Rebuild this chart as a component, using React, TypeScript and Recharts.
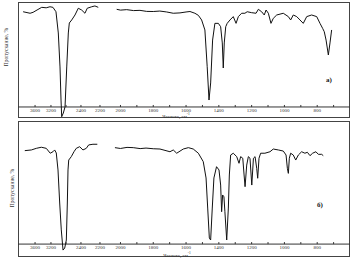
import { LineChart, Line, XAxis, YAxis, ReferenceLine } from 'recharts';

// panel a) — two scanned segments, wavenumber (cm-1) vs transmittance (%)
const A_HIGH_WN = [3900, 3725, 3650, 3550, 3432, 3320, 3225, 3147, 3067, 3005, 2960, 2933, 2915, 2872, 2827, 2781, 2739, 2712, 2648, 2560, 2472, 2393, 2358, 2334, 2287, 2253, 2218];
const A_HIGH_T = [91.6, 90.3, 91.1, 93.1, 95.4, 95.0, 95.9, 95.4, 91.6, 73.3, 44, 15.5, 1.1, 4.3, 9.5, 44, 73.3, 81.9, 84.5, 88.8, 94.6, 93.1, 90.3, 94.6, 95.9, 96.6, 95.4];
const A_LOW_WN = [2037, 2000, 1962, 1920, 1881, 1840, 1800, 1760, 1718, 1678, 1637, 1600, 1576, 1546, 1525, 1505, 1485, 1471, 1460, 1450, 1438, 1424, 1403, 1389, 1379, 1373, 1367, 1358, 1349, 1332, 1312, 1295, 1281, 1261, 1241, 1227, 1200, 1173, 1159, 1139, 1123, 1112, 1098, 1082, 1068, 1047, 1007, 976, 962, 946, 925, 905, 885, 864, 834, 803, 783, 767, 757, 746, 732, 722, 712];
const A_LOW_T = [93.7, 93.0, 93.4, 92.6, 92.8, 91.9, 91.8, 92.2, 91.4, 90.3, 90.6, 91.4, 91.8, 90.3, 88.5, 84.5, 75.9, 44.2, 15.5, 30.2, 67.2, 81.6, 81.6, 78.7, 64.7, 43.1, 64.7, 78.7, 81.6, 84.5, 87.4, 81.6, 87.4, 90.3, 90.3, 91.6, 90.8, 90.3, 93.7, 91.6, 88.8, 93.1, 90.3, 81.6, 85.9, 88.8, 90.3, 87.4, 84.5, 88.8, 87.4, 84.5, 81.6, 87.4, 88.8, 87.4, 81.6, 77.3, 74.4, 67.2, 54.3, 64.7, 75.9];

// panel б)
const B_HIGH_WN = [3858, 3693, 3568, 3442, 3318, 3218, 3147, 3102, 3059, 3013, 2968, 2926, 2880, 2835, 2792, 2765, 2747, 2728, 2659, 2587, 2526, 2435, 2379, 2344, 2319, 2274, 2228];
const B_HIGH_T = [78.2, 78.7, 79.9, 80.7, 79.9, 76.3, 77.4, 78.7, 76.5, 64, 39.7, 19.9, 5.1, 6.6, 12.5, 39.7, 64, 71.3, 73.8, 77.4, 79.9, 81.1, 78.7, 79.9, 82.4, 82.9, 82.9];
const B_LOW_WN = [2054, 2000, 1960, 1922, 1880, 1844, 1800, 1759, 1698, 1678, 1657, 1617, 1586, 1556, 1525, 1495, 1478, 1468, 1458, 1450, 1440, 1430, 1414, 1399, 1389, 1383, 1377, 1369, 1363, 1352, 1342, 1336, 1328, 1312, 1291, 1277, 1267, 1254, 1246, 1240, 1230, 1220, 1210, 1199, 1189, 1179, 1169, 1163, 1155, 1145, 1119, 1088, 1068, 1037, 1007, 990, 982, 976, 970, 962, 946, 931, 915, 895, 875, 860, 844, 828, 808, 793, 773, 763];
const B_LOW_T = [80.4, 79.8, 80.6, 80.4, 79.7, 80.1, 79.6, 79.4, 77.4, 78.7, 76.3, 79.4, 80.4, 79.4, 76.3, 70.1, 58.1, 36, 14, 12.5, 36, 58.1, 66.4, 64, 52.9, 33.3, 45.6, 44.3, 33.3, 12.5, 36, 60.3, 75, 76.3, 73.8, 68.9, 73.8, 72.6, 60.3, 51.7, 67.6, 73.8, 72.6, 52.9, 72.6, 73.8, 65.2, 57.9, 72.6, 76.3, 76.3, 77.4, 79.4, 78.7, 77.9, 75, 65.2, 61.5, 72.6, 76.3, 75, 71.3, 75, 77.4, 76.3, 77, 74.5, 76.3, 77.4, 75.5, 75.5, 74.5];

const TICK_WN = [3600, 3200, 2800, 2400, 2200, 2000, 1900, 1800, 1700, 1600, 1500, 1400, 1300, 1200, 1100, 1000, 900, 800, 700];
const LABELED_WN = [3600, 3200, 2400, 2200, 2000, 1800, 1600, 1400, 1200, 1000, 800];

// the axis is squeezed above 2000 cm-1 (unequal steps), linear 100 cm-1 per unit below
const KNOT_WN = [4000, 3600, 3200, 2800, 2400, 2200, 2000];
const KNOT_POS = [-1.18, -0.21, 0.76, 1.68, 2.59, 3.75, 5];
const DOMAIN: [number, number] = [-1.25, 19];
const AXIS_T = 9.5;

function wnToPos(wn: number) {
    if (wn <= 2000) return 5 + (2000 - wn) / 100;
    for (let i = 0; i < KNOT_WN.length - 1; i++) {
        const a = KNOT_WN[i], b = KNOT_WN[i + 1];
        if (wn <= a && wn >= b) {
            return KNOT_POS[i] + ((a - wn) / (a - b)) * (KNOT_POS[i + 1] - KNOT_POS[i]);
        }
    }
    return KNOT_POS[0] - ((wn - 4000) / 400) * 0.97;
}

const toRows = (wn: number[], t: number[]) => wn.map((w, i) => ({ pos: wnToPos(w), t: t[i] }));
const TICK_POS = TICK_WN.map(wnToPos);

const FONT = '"Liberation Serif", "DejaVu Serif", serif';

function makeTick(plotH: number, labelDy: number) {
    const lineDy = -(AXIS_T / 100) * plotH;
    return (props: any) => {
        const { x, y, payload } = props;
        // find the wavenumber that belongs to this tick position
        let k = 0;
        TICK_POS.forEach((p, i) => {
            if (Math.abs(p - payload.value) < Math.abs(TICK_POS[k] - payload.value)) k = i;
        });
        const wn = TICK_WN[k];
        return (
            <g>
                <line x1={x} x2={x} y1={y + lineDy - 2} y2={y + lineDy} stroke="#333" strokeWidth={1} />
                {LABELED_WN.includes(wn) && (
                    <text x={x} y={y + labelDy} textAnchor="middle" fontSize={5} fontFamily={FONT} fill="#333">
                        {wn}
                    </text>
                )}
            </g>
        );
    };
}

interface PanelProps {
    top: number;
    height: number;
    high: { pos: number; t: number }[];
    low: { pos: number; t: number }[];
    labelDy: number;
}

function Panel({ top, height, high, low, labelDy }: PanelProps) {
    const plotH = height - 4;
    return (
        <div style={{ position: 'absolute', left: 0, top, width: 357, height }}>
            <div style={{ position: 'absolute', left: 18, top: 2, width: 332, height: plotH, border: '1px solid #444', boxSizing: 'border-box' }} />
            <LineChart width={357} height={height} margin={{ top: 2, right: 7, bottom: 1, left: 18 }} style={{ position: 'absolute', left: 0, top: 0 }}>
                <XAxis
                    type="number"
                    dataKey="pos"
                    domain={DOMAIN}
                    allowDataOverflow
                    ticks={TICK_POS}
                    interval={0}
                    height={1}
                    axisLine={false}
                    tickLine={false}
                    tickSize={0}
                    tickMargin={0}
                    tick={makeTick(plotH, labelDy)}
                />
                <YAxis hide domain={[0, 100]} allowDataOverflow />
                <ReferenceLine y={AXIS_T} stroke="#333" strokeWidth={1} />
                <Line data={high} dataKey="t" stroke="#111" strokeWidth={1} dot={false} isAnimationActive={false} />
                <Line data={low} dataKey="t" stroke="#111" strokeWidth={1} dot={false} isAnimationActive={false} />
            </LineChart>
        </div>
    );
}

const textStyle = { position: 'absolute' as const, fontFamily: FONT, color: '#333', whiteSpace: 'nowrap' as const, lineHeight: 1 };
const supStyle = { fontSize: 3.5, lineHeight: 0, verticalAlign: 'top' as const };

export default function App() {
    return (
        <div style={{ position: 'absolute', left: 0, top: 0, width: 357, height: 262, background: '#fff' }}>
            <Panel top={0} height={120} high={toRows(A_HIGH_WN, A_HIGH_T)} low={toRows(A_LOW_WN, A_LOW_T)} labelDy={-6.5} />
            <Panel top={119} height={140} high={toRows(B_HIGH_WN, B_HIGH_T)} low={toRows(B_LOW_WN, B_LOW_T)} labelDy={-8} />

            <div style={{ ...textStyle, left: 7, top: 47, fontSize: 5.5, transform: 'translate(-50%, -50%) rotate(-90deg)' }}>Пропускание, %</div>
            <div style={{ ...textStyle, left: 12.5, top: 188, fontSize: 5.5, transform: 'translate(-50%, -50%) rotate(-90deg)' }}>Пропускание, %</div>

            <div style={{ ...textStyle, left: 176, top: 116, fontSize: 5, transform: 'translate(-50%, -50%)' }}>
                Частота, см<span style={supStyle}>-1</span>
            </div>
            <div style={{ ...textStyle, left: 177, top: 255, fontSize: 5, transform: 'translate(-50%, -50%)' }}>
                Частота, см<span style={supStyle}>-1</span>
            </div>

            <div style={{ ...textStyle, left: 329, top: 79.5, fontSize: 7, fontWeight: 'bold', color: '#111', transform: 'translate(-50%, -50%)' }}>а)</div>
            <div style={{ ...textStyle, left: 320, top: 205, fontSize: 7, fontWeight: 'bold', color: '#111', transform: 'translate(-50%, -50%)' }}>б)</div>
        </div>
    );
}
